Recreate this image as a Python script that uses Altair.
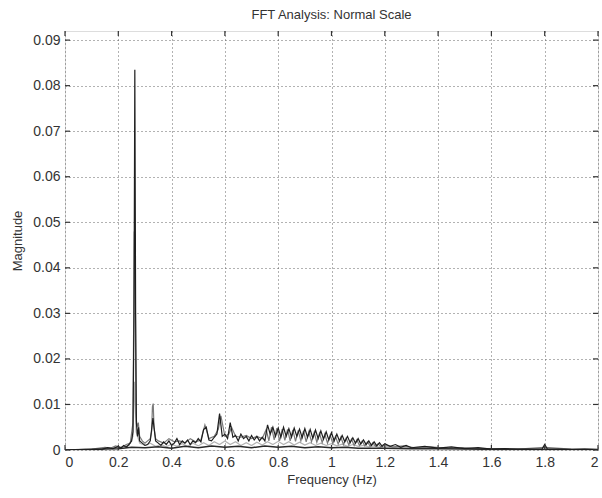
import altair as alt
import pandas as pd

# ---------------- data ----------------
# series 1: dark main trace
freq_a = [0.00, 0.10, 0.14, 0.16, 0.18, 0.20, 0.21, 0.22, 0.23, 0.24, 0.25, 0.255, 0.259, 0.262, 0.265, 0.268,
          0.272, 0.276, 0.28, 0.29, 0.30, 0.31, 0.32, 0.33, 0.34, 0.35, 0.36, 0.37, 0.38, 0.39, 0.40,
          0.41, 0.42, 0.43, 0.44, 0.45, 0.46, 0.47, 0.48, 0.49, 0.50, 0.51, 0.52, 0.53, 0.54, 0.55,
          0.56, 0.57, 0.58, 0.59, 0.60, 0.61, 0.62, 0.63, 0.64, 0.65, 0.66, 0.67, 0.68, 0.69, 0.70,
          0.71, 0.72, 0.73, 0.74, 0.75, 0.76, 0.77, 0.78, 0.79, 0.80, 0.81, 0.82, 0.83, 0.84, 0.85,
          0.86, 0.87, 0.88, 0.89, 0.90, 0.91, 0.92, 0.93, 0.94, 0.95, 0.96, 0.97, 0.98, 0.99, 1.00,
          1.01, 1.02, 1.03, 1.04, 1.05, 1.06, 1.07, 1.08, 1.09, 1.10, 1.11, 1.12, 1.13, 1.14, 1.15,
          1.16, 1.17, 1.18, 1.19, 1.20, 1.22, 1.24, 1.26, 1.28, 1.30, 1.35, 1.40, 1.45, 1.50, 1.55,
          1.60, 1.65, 1.70, 1.75, 1.79, 1.80, 1.81, 1.85, 1.90, 1.95, 2.00]
mag_a = [0.0, 0.0001, 0.0002, 0.0005, 0.0003, 0.0008, 0.0004, 0.001, 0.0006, 0.0012, 0.002, 0.004, 0.03, 0.0835, 0.03, 0.006,
         0.003, 0.005, 0.002, 0.0015, 0.001, 0.0012, 0.002, 0.007, 0.002, 0.0015, 0.001, 0.0018, 0.0012, 0.002, 0.001,
         0.0015, 0.0025, 0.0012, 0.002, 0.0015, 0.0022, 0.0012, 0.002, 0.0016, 0.0025, 0.0018, 0.0045, 0.005, 0.0022, 0.002,
         0.0028, 0.0035, 0.008, 0.003, 0.0035, 0.0025, 0.006, 0.0028, 0.0032, 0.002, 0.0035, 0.0025, 0.003, 0.002, 0.0032,
         0.0022, 0.003, 0.002, 0.0028, 0.002, 0.0055, 0.0035, 0.005, 0.003, 0.0048, 0.0028, 0.005, 0.003, 0.0047, 0.0028,
         0.0048, 0.003, 0.0046, 0.0027, 0.0047, 0.0028, 0.0045, 0.0026, 0.0044, 0.0025, 0.0042, 0.0024, 0.004, 0.0022, 0.0038,
         0.002, 0.0035, 0.002, 0.0032, 0.0018, 0.003, 0.0016, 0.0027, 0.0015, 0.0025, 0.0013, 0.0022, 0.0012, 0.002, 0.001,
         0.0018, 0.0009, 0.0016, 0.0008, 0.0014, 0.0008, 0.0012, 0.0006, 0.001, 0.0005, 0.0008, 0.0004, 0.0007, 0.0003, 0.0005,
         0.0002, 0.0003, 0.0002, 0.0002, 0.0002, 0.0012, 0.0002, 0.0002, 0.0001, 0.0002, 0.0001]

# series 2: mid-gray trace
freq_b = [0.00, 0.10, 0.15, 0.17, 0.19, 0.21, 0.23, 0.245, 0.255, 0.26, 0.263, 0.266, 0.27, 0.275, 0.28, 0.29,
          0.30, 0.31, 0.32, 0.325, 0.328, 0.331, 0.334, 0.34, 0.35, 0.37, 0.39, 0.41, 0.43, 0.45, 0.47,
          0.49, 0.51, 0.525, 0.54, 0.56, 0.575, 0.585, 0.60, 0.615, 0.625, 0.64, 0.66, 0.68, 0.70, 0.72,
          0.74, 0.755, 0.765, 0.775, 0.785, 0.795, 0.805, 0.815, 0.825, 0.835, 0.845, 0.855, 0.865, 0.875,
          0.885, 0.895, 0.905, 0.915, 0.925, 0.935, 0.945, 0.955, 0.965, 0.975, 0.985, 0.995, 1.005, 1.015,
          1.025, 1.035, 1.045, 1.055, 1.065, 1.075, 1.085, 1.095, 1.105, 1.115, 1.125, 1.135, 1.145, 1.155,
          1.165, 1.175, 1.185, 1.195, 1.23, 1.27, 1.31, 1.37, 1.43, 1.49, 1.55, 1.62, 1.70, 1.80, 1.90, 2.00]
mag_b = [0.0, 0.0002, 0.0006, 0.0004, 0.0009, 0.0005, 0.0012, 0.0015, 0.006, 0.048, 0.047, 0.008, 0.005, 0.006, 0.003, 0.002,
         0.0015, 0.002, 0.0025, 0.004, 0.0095, 0.0102, 0.005, 0.0025, 0.002, 0.0015, 0.0025, 0.0018, 0.002, 0.0015, 0.0025,
         0.0018, 0.0022, 0.0055, 0.0025, 0.003, 0.0045, 0.0075, 0.003, 0.0035, 0.005, 0.003, 0.0028, 0.0032, 0.0025, 0.003,
         0.0025, 0.0045, 0.002, 0.005, 0.0022, 0.0048, 0.002, 0.0046, 0.0021, 0.0045, 0.002, 0.0044, 0.0019, 0.0043,
         0.002, 0.0042, 0.0018, 0.004, 0.0018, 0.0039, 0.0017, 0.0037, 0.0016, 0.0035, 0.0015, 0.0033, 0.0014, 0.003,
         0.0013, 0.0028, 0.0012, 0.0026, 0.0011, 0.0024, 0.001, 0.0022, 0.001, 0.002, 0.0009, 0.0018, 0.0008, 0.0016,
         0.0008, 0.0014, 0.0007, 0.0012, 0.0007, 0.0009, 0.0005, 0.0007, 0.0004, 0.0005, 0.0003, 0.0003, 0.0002, 0.0006, 0.0002, 0.0001]

# series 3: light-gray trace
freq_c = [0.00, 0.15, 0.20, 0.24, 0.255, 0.261, 0.267, 0.28, 0.30, 0.32, 0.34, 0.36, 0.38, 0.40, 0.42, 0.44,
          0.46, 0.48, 0.50, 0.52, 0.54, 0.56, 0.58, 0.60, 0.62, 0.64, 0.66, 0.68, 0.70, 0.72, 0.74, 0.76,
          0.78, 0.80, 0.82, 0.84, 0.86, 0.88, 0.90, 0.92, 0.94, 0.96, 0.98, 1.00, 1.02, 1.04, 1.06, 1.08,
          1.10, 1.12, 1.14, 1.16, 1.18, 1.20, 1.25, 1.30, 1.40, 1.50, 1.60, 1.80, 2.00]
mag_c = [0.0, 0.0003, 0.0006, 0.001, 0.003, 0.015, 0.004, 0.0015, 0.001, 0.0015, 0.0008, 0.0012, 0.0007, 0.0013, 0.0008, 0.0014,
         0.0008, 0.0015, 0.0009, 0.0016, 0.001, 0.0018, 0.0012, 0.002, 0.0012, 0.0018, 0.001, 0.0016, 0.001, 0.0017, 0.0011, 0.0018,
         0.0012, 0.0019, 0.0012, 0.0018, 0.0011, 0.0017, 0.0011, 0.0016, 0.001, 0.0015, 0.001, 0.0014, 0.0009, 0.0013, 0.0008, 0.0012,
         0.0008, 0.001, 0.0007, 0.0009, 0.0006, 0.0008, 0.0005, 0.0006, 0.0004, 0.0003, 0.0002, 0.0002, 0.0001]

# series 4: dark low-level trace near the baseline
freq_d = [0.00, 0.15, 0.20, 0.25, 0.30, 0.35, 0.40, 0.45, 0.50, 0.55, 0.60, 0.65, 0.70, 0.75, 0.80, 0.85,
          0.90, 0.95, 1.00, 1.05, 1.10, 1.20, 1.30, 1.40, 1.50, 1.70, 2.00]
mag_d = [0.0, 0.0002, 0.0003, 0.0006, 0.0005, 0.0007, 0.0004, 0.0008, 0.0005, 0.0009, 0.0006, 0.0008, 0.0005, 0.0009, 0.0006, 0.0008,
         0.0005, 0.0007, 0.0005, 0.0006, 0.0004, 0.0004, 0.0003, 0.0003, 0.0002, 0.0001, 0.0001]

x_ticks = [0, 0.2, 0.4, 0.6, 0.8, 1.0, 1.2, 1.4, 1.6, 1.8, 2.0]
y_ticks = [0, 0.01, 0.02, 0.03, 0.04, 0.05, 0.06, 0.07, 0.08, 0.09]

W, H = 533, 419
FONT = "Liberation Sans"
TXT = "#333333"

xscale = alt.Scale(domain=[0, 2], nice=False, zero=False)
yscale = alt.Scale(domain=[0, 0.092], nice=False)

x_axis = alt.Axis(values=x_ticks, title="Frequency (Hz)", grid=True, gridColor="#555555",
                  gridDash=[1, 3], gridWidth=1, gridOpacity=0.9, tickSize=0, domain=False,
                  labelExpr="format(datum.value, '~g')", labelFont=FONT, labelFontSize=14,
                  labelColor=TXT, labelPadding=5, titleFont=FONT, titleFontSize=13,
                  titleFontWeight="normal", titleColor=TXT, titlePadding=4)
y_axis = alt.Axis(values=y_ticks, title="Magnitude", grid=True, gridColor="#555555",
                  gridDash=[1, 3], gridWidth=1, gridOpacity=0.9, tickSize=0, domain=False,
                  labelExpr="datum.value == 0 ? '0' : format(datum.value, '.2f')",
                  labelFont=FONT, labelFontSize=14, labelColor=TXT, labelPadding=5,
                  titleFont=FONT, titleFontSize=13, titleFontWeight="normal",
                  titleColor=TXT, titlePadding=8)

X = alt.X("freq:Q", scale=xscale, axis=x_axis)
Y = alt.Y("mag:Q", scale=yscale, axis=y_axis)


def trace(freq, mag, color, width):
    df = pd.DataFrame({"freq": freq, "mag": mag})
    return alt.Chart(df).mark_line(color=color, strokeWidth=width, clip=True).encode(x=X, y=Y)


# inward ticks on all four sides (MATLAB style)
ydf = pd.DataFrame({"mag": y_ticks})
xdf = pd.DataFrame({"freq": x_ticks})
tick_l = alt.Chart(ydf).mark_rule(color="#333333", strokeWidth=1.2).encode(
    y=Y, x=alt.value(0), x2=alt.value(5))
tick_r = alt.Chart(ydf).mark_rule(color="#333333", strokeWidth=1.2).encode(
    y=Y, x=alt.value(W - 5), x2=alt.value(W))
tick_b = alt.Chart(xdf).mark_rule(color="#333333", strokeWidth=1.2).encode(
    x=X, y=alt.value(H), y2=alt.value(H - 5))
tick_t = alt.Chart(xdf).mark_rule(color="#333333", strokeWidth=1.2).encode(
    x=X, y=alt.value(0), y2=alt.value(5))

chart = alt.layer(
    trace(freq_c, mag_c, "#b4b4b4", 1.2),
    trace(freq_b, mag_b, "#7a7a7a", 1.2),
    trace(freq_d, mag_d, "#2a2a2a", 1.5),
    trace(freq_a, mag_a, "#1e1e1e", 1.2),
    tick_l, tick_r, tick_b, tick_t,
).properties(
    width=W, height=H,
    title=alt.TitleParams("FFT Analysis: Normal Scale", font=FONT, fontSize=13,
                          fontWeight="normal", color=TXT, anchor="middle", offset=8),
    autosize=alt.AutoSizeParams(type="none"),
    padding={"left": 65, "top": 31, "right": 4, "bottom": 48},
).configure_view(stroke="#333333", strokeWidth=1.5).configure(background="white")

chart.save("out.html", embed_options={"renderer": "svg", "actions": False})
